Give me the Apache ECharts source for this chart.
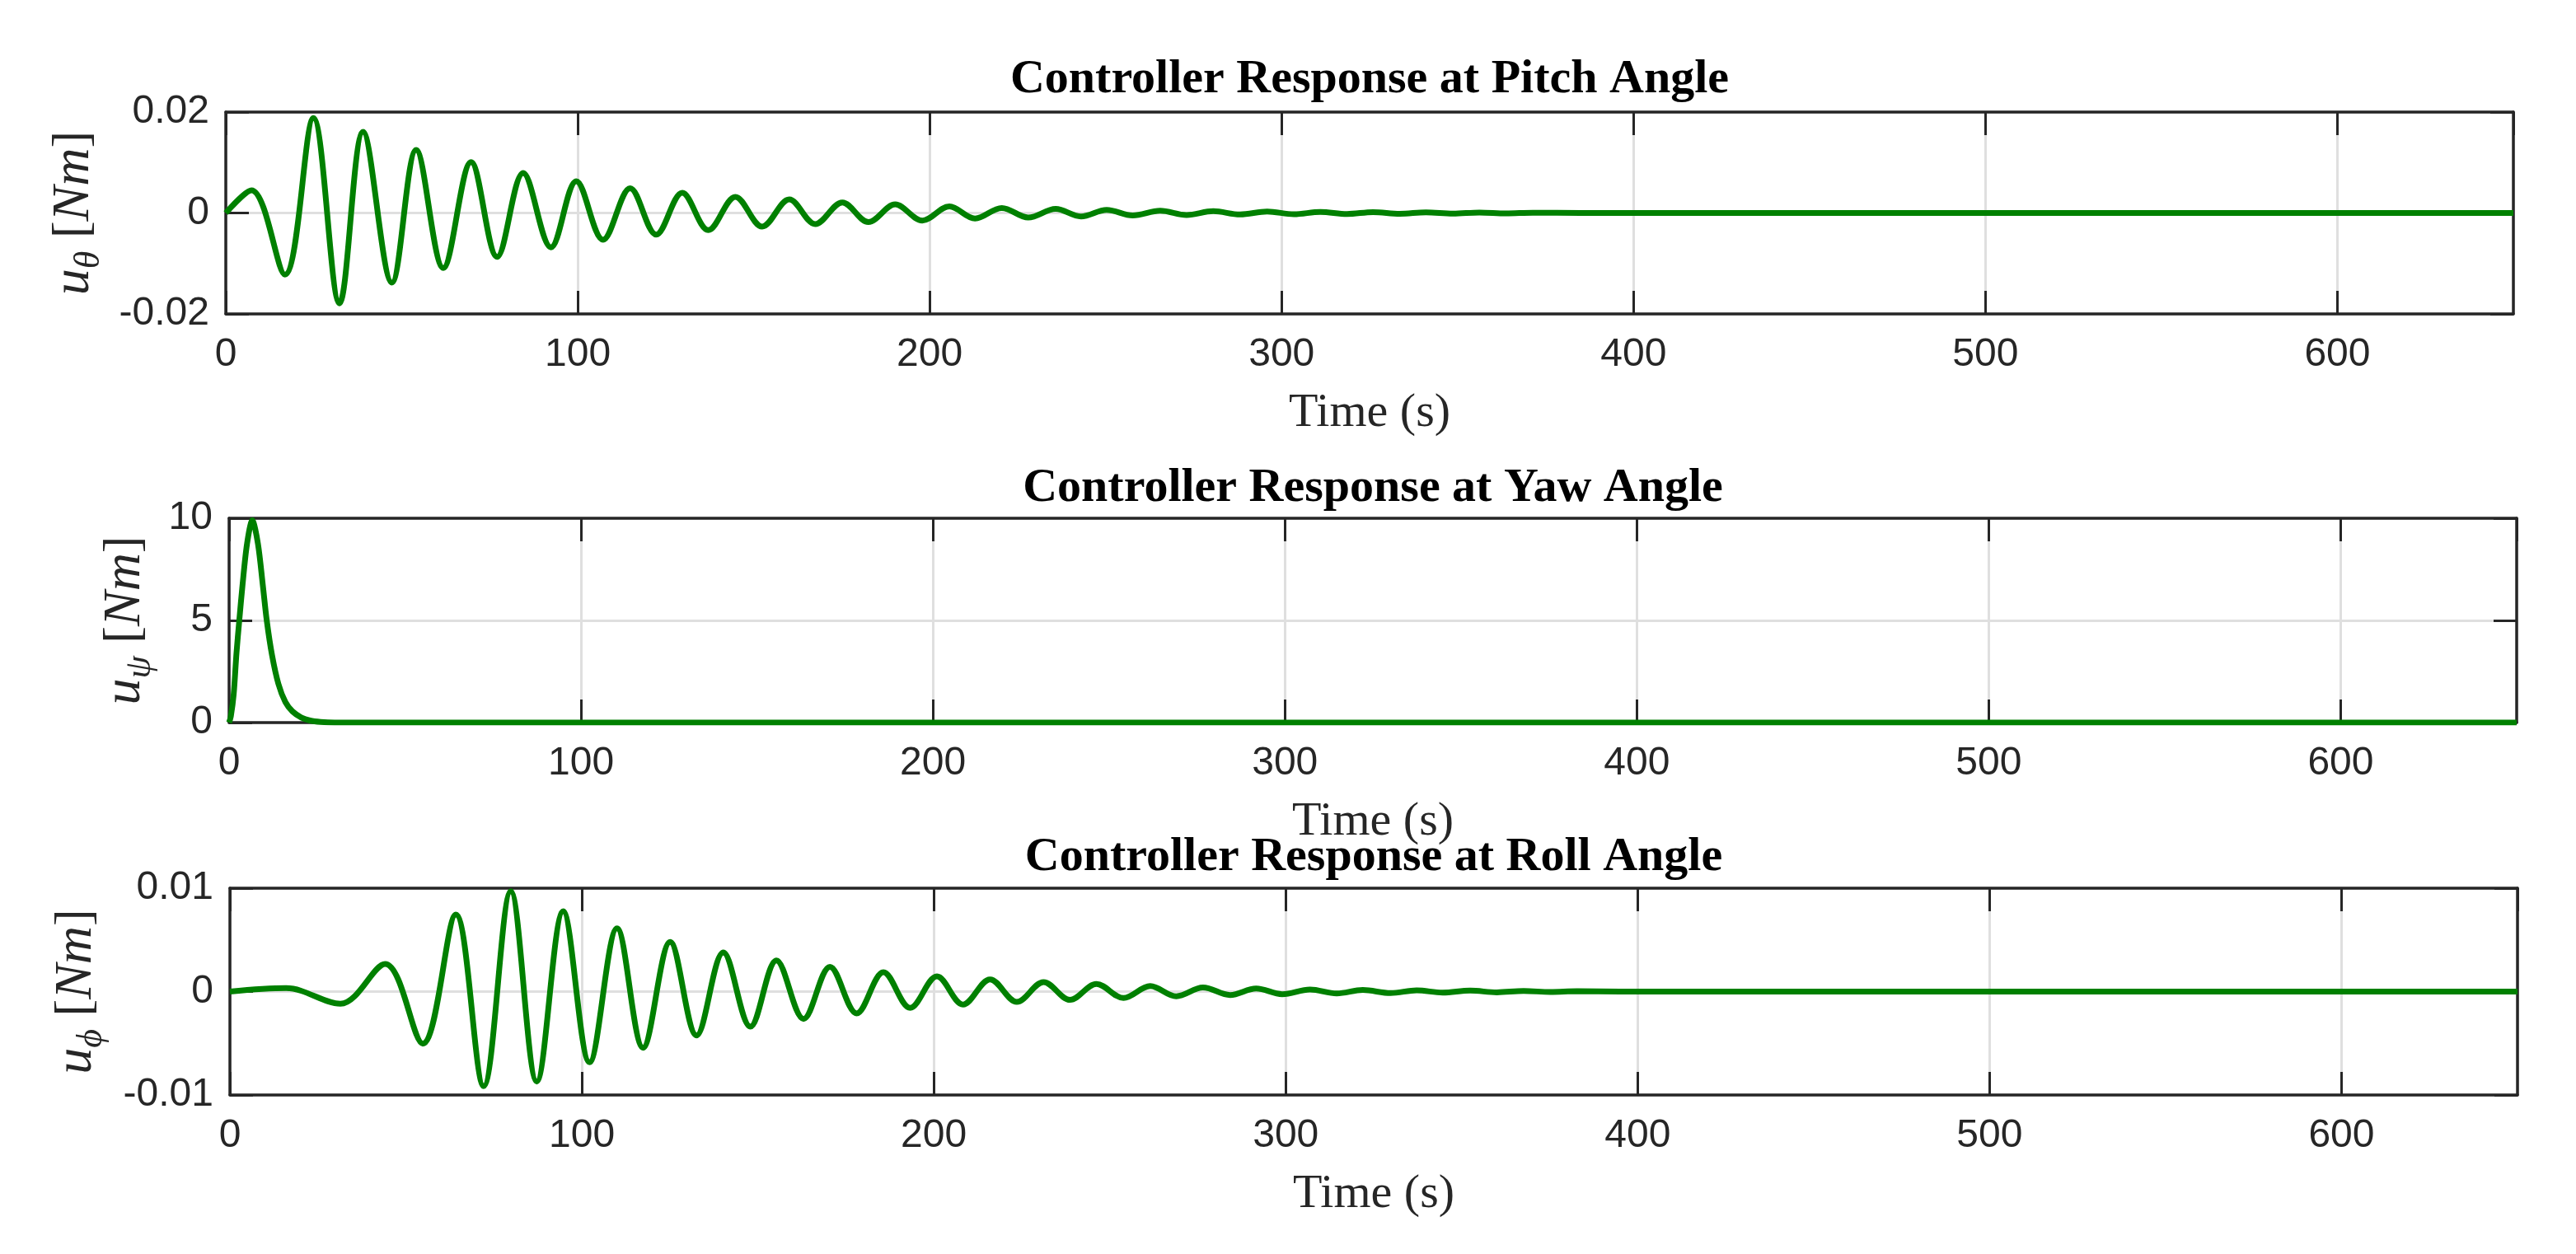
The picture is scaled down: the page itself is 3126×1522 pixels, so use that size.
<!DOCTYPE html>
<html>
<head>
<meta charset="utf-8">
<script src="https://cdn.jsdelivr.net/npm/echarts@6/dist/echarts.min.js"></script>
<style>
html,body{margin:0;padding:0;background:#ffffff;}
#c{width:3126px;height:1522px;}
</style>
</head>
<body>
<div id="c"></div>
<script>
// ---------------- data ----------------
const timeMin = 0, timeMax = 650, timeStep = 100;

const titles = [
  'Controller Response at Pitch Angle',
  'Controller Response at Yaw Angle',
  'Controller Response at Roll Angle'
];
const xLabel = 'Time (s)';
const ySubscripts = ['θ', 'ψ', 'ϕ'];

const pitchYTicks = [-0.02, 0, 0.02];
const yawYTicks = [0, 5, 10];
const rollYTicks = [-0.01, 0, 0.01];

// pitch controller output u_theta [Nm] (peaks / troughs)
const pitchTime = [0, 7.3, 16.8, 24.9, 32.3, 39.0, 47.2, 54.1, 61.8, 69.7, 77.1, 84.5, 92.4, 99.6,
  107.2, 114.9, 122.3, 129.7, 137.1, 144.8, 152.4, 160.1, 167.5, 175.2, 182.6, 190.2,
  197.9, 205.6, 212.9, 220.5, 228.0, 235.8, 243.0, 250.3, 257.7, 265.5, 273.0, 280.6,
  288.2, 295.9, 303.5, 311.0, 318.6, 326.0, 333.6, 341.0, 348.7, 356.2, 363.8, 371.4, 385, 650];
const pitchValue = [0, 0.0045, -0.0122, 0.0188, -0.0179, 0.0161, -0.0138, 0.0125, -0.0109, 0.0101, -0.0087, 0.0079, -0.0068, 0.0063,
  -0.0053, 0.0049, -0.0043, 0.0040, -0.0034, 0.0032, -0.0027, 0.0027, -0.0022, 0.0021, -0.0018, 0.0017,
  -0.0015, 0.0013, -0.0011, 0.0010, -0.0009, 0.0008, -0.0007, 0.0006, -0.0005, 0.00045, -0.0004, 0.00035,
  -0.0003, 0.00028, -0.00025, 0.00022, -0.0002, 0.00018, -0.00016, 0.00014, -0.00012, 0.0001, -0.00008, 0.00006, 0, 0];

// yaw controller output u_psi [Nm]
const yawTime = [0, 0.5, 1.3, 2.1, 2.9, 3.8, 5.1, 6.6, 8.2, 9.6, 10.7, 12.2, 14.0, 16.0, 18.0, 20.5, 23.0, 26.0, 30.0, 650];
const yawValue = [0, 0.3, 1.37, 3.4, 5.0, 6.7, 8.75, 9.9, 8.75, 6.7, 5.0, 3.3, 1.9, 1.0, 0.55, 0.25, 0.1, 0.03, 0, 0];

// roll controller output u_phi [Nm]
const rollTime = [0, 16, 31.4, 44.1, 54.8, 64.2, 72.1, 79.8, 87.2, 94.7, 102.2, 110, 117.4, 125.1, 132.6,
  140.2, 147.9, 155.3, 163, 170.5, 178.1, 185.7, 193.3, 200.9, 208.3, 216.0, 223.6, 231.2, 238.7,
  246.2, 253.9, 261.5, 268.9, 276.5, 284.2, 291.6, 299.0, 306.9, 314.5, 321.9, 329.8, 337.2, 344.6,
  352.4, 360.0, 367.6, 375.2, 382.8, 395, 650];
const rollValue = [0, 0.00033, -0.00118, 0.00267, -0.00503, 0.00745, -0.00915, 0.0097, -0.0087, 0.00777, -0.00684, 0.00612, -0.00543, 0.0048, -0.00424,
  0.00378, -0.00339, 0.00301, -0.00264, 0.0024, -0.00211, 0.00187, -0.00158, 0.00147, -0.00125, 0.00118, -0.001, 0.00092, -0.0008,
  0.00074, -0.00062, 0.00054, -0.00045, 0.0004, -0.00033, 0.0003, -0.00025, 0.0002, -0.00018, 0.00015, -0.00014, 0.00012, -0.0001,
  0.00009, -0.00007, 0.00006, -0.00004, 0.00003, 0, 0];

// ---------------- chart ----------------
const zip = (t, v) => t.map((x, i) => [x, v[i]]);
const seriesData = [zip(pitchTime, pitchValue), zip(yawTime, yawValue), zip(rollTime, rollValue)];
const yTicks = [pitchYTicks, yawYTicks, rollYTicks];

const AX = '#262626';
const gridBoxes = [
  {left: 274, top: 136, width: 2776, height: 245},
  {left: 278, top: 629, width: 2776, height: 248},
  {left: 279, top: 1078, width: 2776, height: 251}
];
const yNameGaps = [144, 86, 146];
const titleY = [97, 593, 1041];

const grid = [], xAxis = [], yAxis = [], series = [], graphic = [];

gridBoxes.forEach((g, i) => {
  grid.push(Object.assign({outerBoundsMode: 'none', containLabel: false}, g));
  const yt = yTicks[i];
  const yMin = yt[0], yMax = yt[yt.length - 1], yStep = yt[1] - yt[0];
  const tickStyle = {show: true, inside: true, length: 28, lineStyle: {color: AX, width: 3}};
  const lineStyle = {show: true, onZero: false, lineStyle: {color: AX, width: 3.5}};
  // main bottom axis
  xAxis.push({
    gridIndex: i, type: 'value', position: 'bottom', min: timeMin, max: timeMax, interval: timeStep, z: 3,
    axisLine: lineStyle, axisTick: tickStyle,
    axisLabel: {show: true, fontFamily: 'Liberation Sans', fontSize: 48, color: AX, margin: 26, showMaxLabel: false},
    splitLine: {show: false},
    name: xLabel, nameLocation: 'middle', nameGap: 92,
    nameTextStyle: {fontFamily: 'Liberation Serif', fontSize: 58, color: AX}
  });
  // top box axis
  xAxis.push({
    gridIndex: i, type: 'value', position: 'top', min: timeMin, max: timeMax, interval: timeStep, z: 3,
    axisLine: lineStyle, axisTick: tickStyle, axisLabel: {show: false}, splitLine: {show: false}
  });
  // grid lines axis
  xAxis.push({
    gridIndex: i, type: 'value', position: 'bottom', min: timeMin, max: timeMax, interval: timeStep, z: 1,
    axisLine: {show: false}, axisTick: {show: false}, axisLabel: {show: false},
    splitLine: {show: true, lineStyle: {color: '#dfdfdf', width: 3}}
  });

  const sub = ySubscripts[i];
  yAxis.push({
    gridIndex: i, type: 'value', position: 'left', min: yMin, max: yMax, interval: yStep, z: 3,
    axisLine: lineStyle, axisTick: tickStyle,
    axisLabel: {show: true, fontFamily: 'Liberation Sans', fontSize: 48, color: AX, margin: 20},
    splitLine: {show: false},
    name: '{u|u}{s|' + sub + '}{b| [}{n|Nm}{b|]}',
    nameLocation: 'middle', nameRotate: 90, nameGap: yNameGaps[i],
    nameTextStyle: {
      fontFamily: 'Liberation Serif', fontSize: 60, color: AX,
      rich: {
        u: {fontFamily: 'Liberation Serif', fontStyle: 'italic', fontSize: 64, color: AX, lineHeight: 80, verticalAlign: 'middle'},
        s: {fontFamily: 'Liberation Serif', fontStyle: 'italic', fontSize: 44, color: AX, lineHeight: 80, verticalAlign: 'bottom'},
        b: {fontFamily: 'Liberation Serif', fontSize: 62, color: AX, lineHeight: 80, verticalAlign: 'middle'},
        n: {fontFamily: 'Liberation Serif', fontStyle: 'italic', fontSize: 64, color: AX, lineHeight: 80, verticalAlign: 'middle'}
      }
    }
  });
  yAxis.push({
    gridIndex: i, type: 'value', position: 'right', min: yMin, max: yMax, interval: yStep, z: 3,
    axisLine: lineStyle, axisTick: tickStyle, axisLabel: {show: false}, splitLine: {show: false}
  });
  yAxis.push({
    gridIndex: i, type: 'value', position: 'left', min: yMin, max: yMax, interval: yStep, z: 1,
    axisLine: {show: false}, axisTick: {show: false}, axisLabel: {show: false},
    splitLine: {show: true, lineStyle: {color: '#dfdfdf', width: 3}}
  });

  series.push({
    type: 'line', xAxisIndex: i * 3, yAxisIndex: i * 3, data: seriesData[i],
    showSymbol: false, symbol: 'none', smooth: i === 1 ? 0.3 : 0.35, z: 5,
    lineStyle: {color: '#008000', width: 7}, clip: true
  });

  graphic.push({
    type: 'text', x: g.left + g.width / 2, y: titleY[i], z: 10,
    style: {text: titles[i], fill: '#000000', font: 'bold 58px "Liberation Serif"', textAlign: 'center', textVerticalAlign: 'middle'}
  });
});

const chart = echarts.init(document.getElementById('c'), null, {renderer: 'canvas', width: 3126, height: 1522});
chart.setOption({
  animation: false,
  backgroundColor: '#ffffff',
  grid, xAxis, yAxis, series, graphic
});
</script>
</body>
</html>
